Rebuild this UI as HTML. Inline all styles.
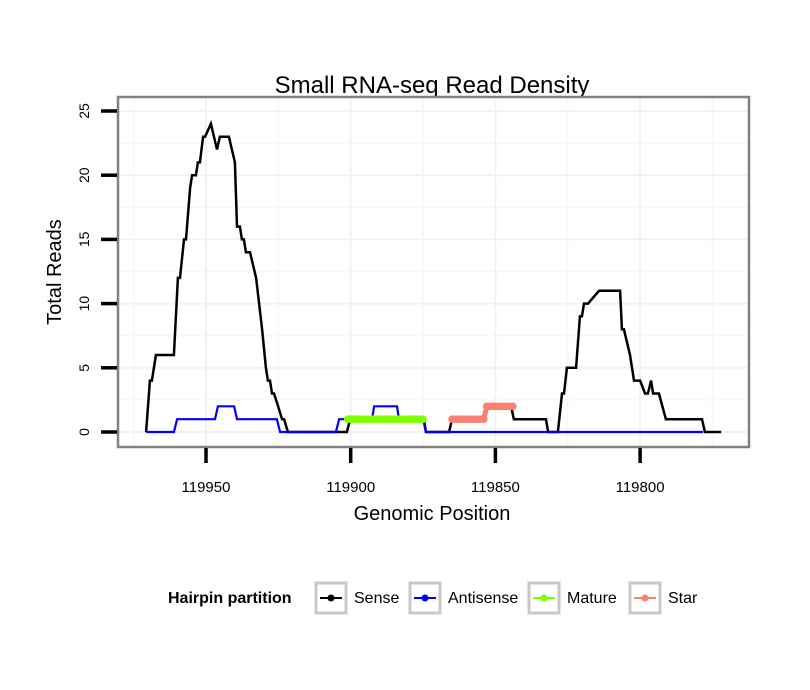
<!DOCTYPE html>
<html><head><meta charset="utf-8"><style>
body{margin:0;background:#fff;}
svg{display:block;font-family:"Liberation Sans",Arial,sans-serif;}
</style></head><body>
<svg id="chart" width="810" height="690" viewBox="0 0 810 690">
<text x="432" y="93" text-anchor="middle" font-size="24">Small RNA-seq Read Density</text>
<g id="grid"></g>
<g id="series"></g>
<rect x="118" y="97" width="631" height="350" fill="none" stroke="#808080" stroke-width="2.5"/>
<g id="axes"></g>
<text x="432" y="520" text-anchor="middle" font-size="20">Genomic Position</text>
<text transform="translate(61,272) rotate(-90)" text-anchor="middle" font-size="20">Total Reads</text>
<g>
<text x="168" y="603" font-size="16" font-weight="bold">Hairpin partition</text>
<g><rect x="316" y="583" width="30" height="30" fill="#fff" stroke="#c8c8c8" stroke-width="3"/><line x1="320" y1="598" x2="342" y2="598" stroke="#000" stroke-width="2"/><circle cx="331" cy="598" r="3.5" fill="#000"/><text x="354" y="603" font-size="16">Sense</text></g>
<g><rect x="410" y="583" width="30" height="30" fill="#fff" stroke="#c8c8c8" stroke-width="3"/><line x1="414" y1="598" x2="436" y2="598" stroke="#0000ff" stroke-width="2"/><circle cx="425" cy="598" r="3.5" fill="#0000ff"/><text x="448" y="603" font-size="16">Antisense</text></g>
<g><rect x="529" y="583" width="30" height="30" fill="#fff" stroke="#c8c8c8" stroke-width="3"/><line x1="533" y1="598" x2="555" y2="598" stroke="#7fff00" stroke-width="2"/><circle cx="544" cy="598" r="3.5" fill="#7fff00"/><text x="567" y="603" font-size="16">Mature</text></g>
<g><rect x="630" y="583" width="30" height="30" fill="#fff" stroke="#c8c8c8" stroke-width="3"/><line x1="634" y1="598" x2="656" y2="598" stroke="#fa8072" stroke-width="2"/><circle cx="645" cy="598" r="3.5" fill="#fa8072"/><text x="668" y="603" font-size="16">Star</text></g>
</g>
</svg>
<script>
const xTicks = [119950, 119900, 119850, 119800];
const xTickLabels = ["119950", "119900", "119850", "119800"];
const yTicks = [0, 5, 10, 15, 20, 25];
const yTickLabels = ["0", "5", "10", "15", "20", "25"];
const sensePos = [119970.7,119969.4,119968.7,119967.3,119961.1,119959.7,119959.0,119957.6,119956.9,119955.5,119954.8,119953.5,119952.8,119952.1,119951.0,119950.3,119948.3,119946.2,119945.2,119942.1,119940.0,119939.3,119938.3,119937.6,119936.9,119936.2,119934.8,119932.7,119930.6,119929.3,119928.6,119927.9,119927.2,119926.5,119925.1,119923.7,119923.0,119921.7,119901.3,119900.2,119874.7,119874.0,119866.0,119865.0,119853.9,119853.2,119844.6,119843.6,119832.5,119831.8,119828.4,119827.0,119826.3,119825.3,119822.1,119820.8,119820.1,119819.4,119818.0,119814.2,119806.9,119806.3,119805.6,119803.5,119802.1,119800.0,119798.3,119797.3,119796.2,119795.5,119793.5,119791.1,119778.6,119777.6,119772.0];
const senseVal = [0,4,4,6,6,12,12,15,15,19,20,20,21,21,23,23,24,22,23,23,21,16,16,15,15,14,14,12,8,5,4,4,3,3,2,1,1,0,0,1,1,0,0,1,1,2,2,1,1,0,0,3,3,5,5,9,9,10,10,11,11,8,8,6,4,4,3,3,4,3,3,1,1,0,0];
const antiPos = [119970.7,119961.1,119960.0,119946.9,119945.9,119940.3,119939.3,119925.5,119924.4,119905.1,119904.0,119892.6,119891.9,119884.0,119883.3,119875.0,119874.0,119778.3];
const antiVal = [0,0,1,1,2,2,1,1,0,0,1,1,2,2,1,1,0,0];
const maturePos = [119901,119900,119899,119898,119897,119896,119895,119894,119893,119892,119891,119890,119889,119888,119887,119886,119885,119884,119883,119882,119881,119880,119879,119878,119877,119876,119875];
const matureVal = [1,1,1,1,1,1,1,1,1,1,1,1,1,1,1,1,1,1,1,1,1,1,1,1,1,1,1];
const starPos = [119865,119864,119863,119862,119861,119860,119859,119858,119857,119856,119855,119854,119853,119852,119851,119850,119849,119848,119847,119846,119845,119844];
const starVal = [1,1,1,1,1,1,1,1,1,1,1,1,2,2,2,2,2,2,2,2,2,2];

const NS = "http://www.w3.org/2000/svg";
function xs(g){ return 206 + (119950 - g) * 2.894; }
function ys(v){ return 432 - v * 12.84; }
function mk(tag, attrs, parent){
  const e = document.createElementNS(NS, tag);
  for (const k in attrs) e.setAttribute(k, attrs[k]);
  parent.appendChild(e); return e;
}
const grid = document.getElementById('grid');
const series = document.getElementById('series');
const axes = document.getElementById('axes');
for (let i = 0; i < yTicks.length; i++) {
  const v = yTicks[i];
  const l = mk('line', {x1:119, x2:748, y1:ys(v), y2:ys(v), stroke:'#f2f2f2', 'stroke-width':2}, grid);
  
  
  const my = ys(v + 2.5);
  if (my > 98 && my < 446) {
    const m = mk('line', {x1:119, x2:748, y1:my, y2:my, stroke:'#f7f7f7', 'stroke-width':1.5}, grid);
    
    
  }
}
for (let i = 0; i < xTicks.length; i++) {
  const g = xTicks[i];
  const l = mk('line', {x1:xs(g), x2:xs(g), y1:98, y2:446, stroke:'#f2f2f2', 'stroke-width':2}, grid);
  
  
  [g+25, g-25].forEach(mg => {
    const px = xs(mg);
    if (px > 119 && px < 748) {
      const m = mk('line', {x1:px, x2:px, y1:98, y2:446, stroke:'#f7f7f7', 'stroke-width':1.5}, grid);
      
      
    }
  });
}
for (let i = 0; i < xTicks.length; i++) {
  const px = xs(xTicks[i]);
  const t = mk('line', {x1:px, x2:px, y1:448, y2:463, stroke:'#000', 'stroke-width':3.5}, axes);
  
  
  const lb = mk('text', {x:px, y:492, 'text-anchor':'middle', 'font-size':15}, axes);
  lb.textContent = xTickLabels[i];
  
  
}
for (let i = 0; i < yTicks.length; i++) {
  const py = ys(yTicks[i]);
  const t = mk('line', {x1:101, x2:117, y1:py, y2:py, stroke:'#000', 'stroke-width':3.5}, axes);
  
  
  const lb = mk('text', {transform:`translate(89,${py}) rotate(-90)`, 'text-anchor':'middle', 'font-size':14}, axes);
  lb.textContent = yTickLabels[i];
  
  
}
function pathOf(pos, val){ return pos.map((p,i)=>(i?'L':'M')+xs(p).toFixed(1)+','+ys(val[i]).toFixed(1)).join(''); }
const s = mk('path', {d:pathOf(sensePos, senseVal), fill:'none', stroke:'#000', 'stroke-width':2.5}, series);


const a = mk('path', {d:pathOf(antiPos, antiVal), fill:'none', stroke:'#0000ff', 'stroke-width':2.2}, series);


function dotted(pos, val, color, name){
  const p = mk('path', {d:pathOf(pos, val), fill:'none', stroke:color, 'stroke-width':5}, series);
  
  
  for (let i = 0; i < pos.length; i++) {
    const c = mk('circle', {cx:xs(pos[i]), cy:ys(val[i]), r:3.8, fill:color}, series);
    
    
  }
}
dotted(maturePos, matureVal, '#7fff00', 'mature');
dotted(starPos, starVal, '#fa8072', 'star');
</script>
</body></html>
